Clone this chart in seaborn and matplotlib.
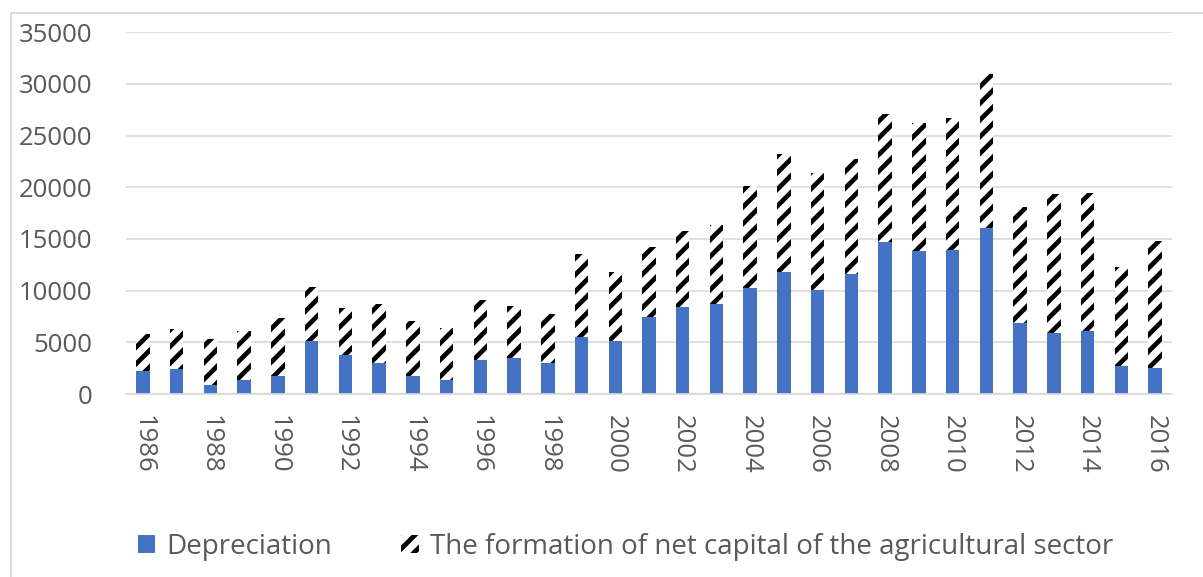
import matplotlib
matplotlib.use("Agg")
import matplotlib.pyplot as plt
import matplotlib.patches as mpatches
import numpy as np
import pandas as pd
import seaborn as sns

# Agricultural capital: depreciation and net capital formation by year
years = list(range(1986, 2017))
depreciation = [2250, 2390, 900, 1320, 1770, 5100, 3740, 3030, 1770, 1320, 3290,
                3450, 3030, 5520, 5130, 7420, 8390, 8740, 10290, 11810, 10060,
                11610, 14740, 13810, 13970, 16030, 6840, 5870, 6100, 2740, 2480]
net_capital = [3560, 3900, 4390, 4780, 5550, 5290, 4550, 5680, 5290, 5100, 5780,
               5100, 4710, 8030, 6710, 6770, 7420, 7580, 9840, 11420, 11360,
               11100, 12330, 12380, 12770, 14940, 11290, 13480, 13320, 9580, 12330]
tick_years = [str(y) for y in range(1986, 2017, 2)]

labels = ["Depreciation", "The formation of net capital of the agricultural sector"]

df = pd.DataFrame({
    "year": [str(y) for y in years],
    "depreciation": depreciation,
    "net": net_capital,
})
df["total"] = df["depreciation"] + df["net"]

sns.set_theme(style="white")
plt.rcParams["font.family"] = ["Open Sans", "DejaVu Sans"]
plt.rcParams["hatch.linewidth"] = 3.4

text_color = "#595959"
grid_color = "#d9d9d9"
blue = "#4472c4"

fig = plt.figure(figsize=(12.03, 5.77), dpi=100)
ax = fig.add_axes([126 / 1203, 1 - 394 / 577, (1172 - 126) / 1203, (394 - 32.3) / 577])

# Stacked bars: the full stack is hatched, depreciation is drawn over its lower part
sns.barplot(data=df, x="year", y="total", ax=ax, color="white", saturation=1,
            width=0.4, edgecolor="black", linewidth=0, hatch="//", zorder=2)
sns.barplot(data=df, x="year", y="depreciation", ax=ax, color=blue,
            saturation=1, width=0.4, linewidth=0, zorder=3)

ax.set_ylim(0, 35000)
ax.set_yticks(np.arange(0, 35001, 5000))
ax.set_xlim(-0.5, len(years) - 0.5)
ax.set_xticks(range(0, len(years), 2))
ax.set_xticklabels(tick_years, rotation=-90, va="top", ha="center")
ax.tick_params(axis="both", length=0, labelsize=18.5, labelcolor=text_color)
ax.tick_params(axis="x", pad=15)
ax.tick_params(axis="y", pad=24)
for lbl in ax.get_yticklabels():
    lbl.set_ha("right")
ax.set_xlabel("")
ax.set_ylabel("")

ax.yaxis.grid(True, color=grid_color, linewidth=1.2, zorder=0)
ax.set_axisbelow(True)
for side in ["top", "right", "left"]:
    ax.spines[side].set_visible(False)
ax.spines["bottom"].set_color(grid_color)
ax.spines["bottom"].set_linewidth(1.2)
ax.spines["bottom"].set_zorder(4)

# Legend below the plot
h_dep = mpatches.Patch(facecolor=blue, edgecolor="none", linewidth=0)
h_net = mpatches.Patch(facecolor="white", edgecolor="black", linewidth=0, hatch="//")
fig.legend([h_dep, h_net], labels, loc="center", ncol=2, frameon=False,
           bbox_to_anchor=((138 + 1113) / 2 / 1203, 1 - 547 / 577),
           fontsize=20, labelcolor=text_color, handlelength=0.62,
           handleheight=0.62, handletextpad=0.4, columnspacing=2.5,
           borderpad=0, borderaxespad=0)

# Chart-area frame (top and left edges fall inside the image)
fig.add_artist(mpatches.Rectangle((10.5 / 1203, -0.1), 1.2, 1 - 13 / 577 + 0.1,
                                  transform=fig.transFigure, fill=False,
                                  edgecolor=grid_color, linewidth=1.3))

fig.savefig("out.png", dpi=100, facecolor="white")
